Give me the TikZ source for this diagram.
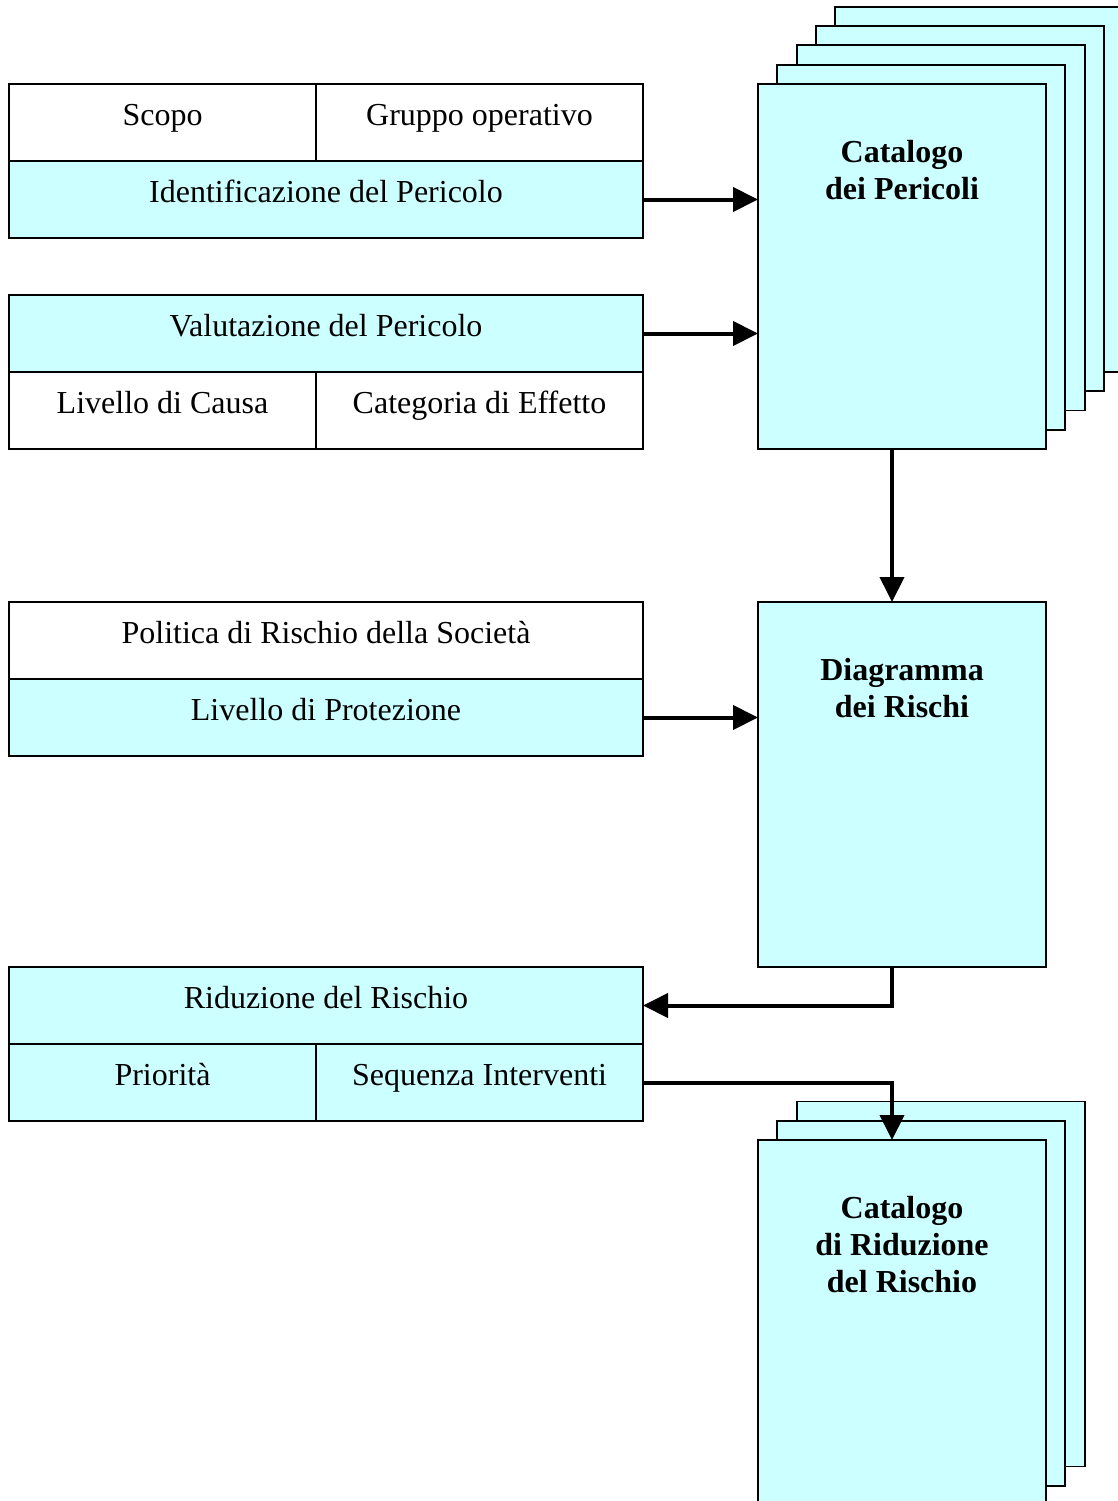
\documentclass[tikz,border=0pt]{standalone}
\usepackage{fontspec}
\setmainfont{Liberation Serif}
\usetikzlibrary{positioning,arrows.meta}
\definecolor{lightcyan}{HTML}{CCFFFF}

\begin{document}
\begin{tikzpicture}[x=1pt,y=-1pt,font=\fontsize{32}{37}\selectfont,
	cell/.style={rectangle,draw,line width=1.8pt,fill=white,inner sep=0pt,outer sep=0pt,minimum height=77pt,text height=12pt,text depth=6pt},
	cellleft/.style={cell,minimum width=307pt},
	cellright/.style={cell,minimum width=327pt},
	cellfull/.style={cell,minimum width=634pt},
	filled/.style={fill=lightcyan},
	sheet/.style={rectangle,draw,line width=1.8pt,fill=lightcyan,inner sep=0pt,outer sep=0pt,minimum width=288pt,minimum height=365pt},
	sheetname/.style={align=center,inner sep=0pt,font=\fontsize{32}{37}\selectfont\bfseries},
	flowarrow/.style={line width=4pt,-{Triangle[length=25pt,width=24pt]}}]
				\useasboundingbox (0,0) rectangle (1118,1501);

				% left side
				\node[cellleft] (scopo) at (162.5,122.5) {Scopo};
				\node[cellright] (gruppo) [right=0pt of scopo] {Gruppo operativo};
				\node[cellfull,filled,anchor=north west] (ident) at (scopo.south west) {Identificazione del Pericolo};

				\node[cellfull,filled] (valut) [below=57pt of ident] {Valutazione del Pericolo};
				\node[cellleft,anchor=north west] (causa) at (valut.south west) {Livello di Causa};
				\node[cellright] (effetto) [right=0pt of causa] {Categoria di Effetto};

				\node[cellfull] (politica) at (326,640.5) {Politica di Rischio della Società};
				\node[cellfull,filled] (protez) [below=0pt of politica] {Livello di Protezione};

				\node[cellfull,filled] (riduz) at (326,1005.5) {Riduzione del Rischio};
				\node[cellleft,filled,anchor=north west] (priorita) at (riduz.south west) {Priorità};
				\node[cellright,filled] (sequenza) [right=0pt of priorita] {Sequenza Interventi};

				% right side
				\foreach \k in {4,3,2,1}
					\node[sheet] (cat\k) at ({902+19.3*\k},{266.5-19.3*\k}) {};
				\node[sheet] (cat) at (902,266.5) {};
				\node[sheetname] (catname) [below=56pt of cat.north] {Catalogo\\dei Pericoli};

				\node[sheet] (diag) [below=153pt of cat] {};
				\node[sheetname] (diagname) [below=56pt of diag.north] {Diagramma\\dei Rischi};

				\foreach \k in {2,1}
					\node[sheet] (catr\k) at ({902+19.3*\k},{1322.5-19.3*\k}) {};
				\node[sheet] (catr) [below=173pt of diag] {};
				\node[sheetname] (catrname) [below=56pt of catr.north] {Catalogo\\di Riduzione\\del Rischio};

				% arrows
				\draw[flowarrow] (ident.east) -- (ident.east -| cat.west);
				\draw[flowarrow] (valut.east) -- (valut.east -| cat.west);
				\draw[flowarrow] (protez.east) -- (protez.east -| diag.west);
				\draw[flowarrow] ([xshift=-10pt]cat.south) -- ([xshift=-10pt]diag.north);
				\draw[flowarrow] ([xshift=-10pt]diag.south) |- (riduz.east);
				\draw[flowarrow] (sequenza.east) -| ([xshift=-10pt]catr.north);

			\end{tikzpicture}
\end{document}
